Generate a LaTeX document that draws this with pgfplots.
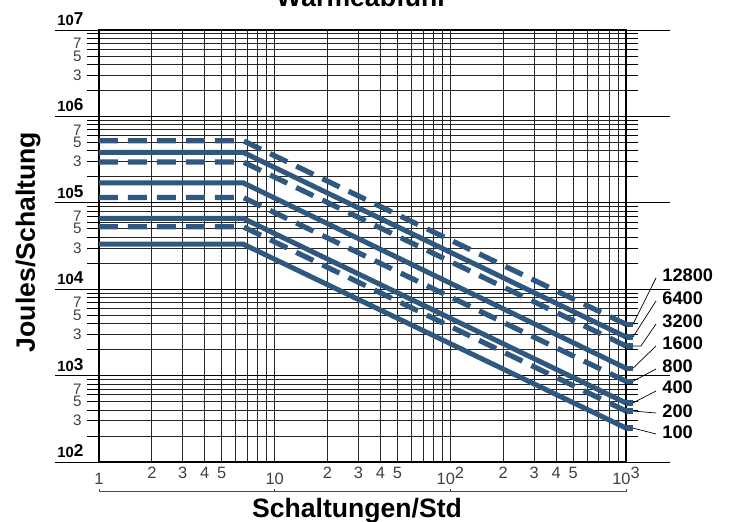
\documentclass[border=0pt]{standalone}
\usepackage{fontspec}
\setmainfont{Liberation Sans}
\usepackage{pgfplots}
\pgfplotsset{compat=1.18}
\definecolor{curve}{RGB}{47,88,128}
\newcommand{\dec}[1]{\fontsize{7.4}{8}\selectfont\bfseries 10\raisebox{0.5pt}{\fontsize{8.6}{9}\selectfont #1}}
\begin{document}
\begin{tikzpicture}
\begin{axis}[
 at={(0,0)}, anchor=south west,
 scale only axis, width=263.5pt, height=216pt,
 xmode=log, ymode=log,
 xmin=1, xmax=1000, ymin=100, ymax=1e7,
 clip=false,
 axis line style={line width=0.8pt},
 grid=both,
 major grid style={black!85, line width=0.45pt},
 minor grid style={black!85, line width=0.45pt},
 xtick={1,2,3,4,5,10,20,30,40,50,100,200,300,400,500,1000},
 xticklabels={\raisebox{-2.75pt}{1},2,3,4,5,\raisebox{-2.75pt}{10},2,3,4,5,\raisebox{-2.75pt}{10}2,2,3,4,5,\raisebox{-2.75pt}{10}3},
 minor xtick={6,7,8,9,60,70,80,90,600,700,800,900},
 x tick style={draw=none},
 xticklabel style={font=\fontsize{8.2}{9}\selectfont, text=black!75, anchor=north, text height=5.9pt, text depth=0pt, inner sep=2.35pt, yshift=6pt},
 ytick={300,500,700,3000,5000,7000,30000,50000,70000,3e5,5e5,7e5,3e6,5e6,7e6},
 yticklabels={3,5,7,3,5,7,3,5,7,3,5,7,3,5,7},
 minor ytick={200,400,600,800,900,2000,4000,6000,8000,9000,20000,40000,60000,80000,90000,2e5,4e5,6e5,8e5,9e5,2e6,4e6,6e6,8e6,9e6},
 y tick style={black, line width=0.45pt},
 tick align=outside,
 major tick length=6pt, minor tick length=6pt,
 yticklabel style={font=\fontsize{7.6}{8}\selectfont, text=black!75, anchor=east, inner sep=0pt, xshift=-2.5pt},
 extra y ticks={100,1000,10000,100000,1000000,10000000},
 extra y tick labels={\dec{2},\dec{3},\dec{4},\dec{5},\dec{6},\dec{7}},
 extra y tick style={major tick length=22pt, tick style={black, line width=0.6pt}, grid=major,
   major grid style={black, line width=0.6pt},
   yticklabel style={anchor=south west, inner sep=0pt, xshift=3.5pt, yshift=2pt, text=black}},
]
% 12800 dashed
\addplot[curve, line width=2.6pt, dash pattern=on 9.5pt off 5pt] coordinates {(1,5.22e5) (6.63,5.22e5) (1000,3926)};
% 6400 solid
\addplot[curve, line width=2.5pt] coordinates {(1,3.83e5) (6.63,3.83e5) (1000,2800)};
% 3200 dashed
\addplot[curve, line width=2.6pt, dash pattern=on 9.5pt off 5pt] coordinates {(1,2.96e5) (6.63,2.96e5) (1000,2203)};
% 1600 solid
\addplot[curve, line width=2.5pt] coordinates {(1,1.70e5) (6.63,1.70e5) (1000,1216)};
% 800 dashed
\addplot[curve, line width=2.6pt, dash pattern=on 9.5pt off 5pt] coordinates {(1,1.15e5) (6.63,1.15e5) (1000,859)};
% 400 solid
\addplot[curve, line width=2.5pt] coordinates {(1,6.59e4) (6.63,6.59e4) (1000,482)};
% 200 dashed
\addplot[curve, line width=2.6pt, dash pattern=on 9.5pt off 5pt] coordinates {(1,5.27e4) (6.63,5.27e4) (1000,389)};
% 100 solid
\addplot[curve, line width=2.5pt] coordinates {(1,3.32e4) (6.63,3.32e4) (1000,247)};
% end stubs
\addplot[curve, line width=2.6pt] coordinates {(1000,3926) (1096,3926)};
\addplot[curve, line width=2.6pt] coordinates {(1000,2800) (1096,2800)};
\addplot[curve, line width=2.6pt] coordinates {(1000,2203) (1096,2203)};
\addplot[curve, line width=2.6pt] coordinates {(1000,1216) (1096,1216)};
\addplot[curve, line width=2.6pt] coordinates {(1000,859) (1096,859)};
\addplot[curve, line width=2.6pt] coordinates {(1000,482) (1096,482)};
\addplot[curve, line width=2.6pt] coordinates {(1000,389) (1096,389)};
\addplot[curve, line width=2.6pt] coordinates {(1000,247) (1096,247)};
\coordinate (e1) at (axis cs:1096,3926);
\coordinate (e2) at (axis cs:1096,2800);
\coordinate (e3) at (axis cs:1096,2203);
\coordinate (e4) at (axis cs:1096,1216);
\coordinate (e5) at (axis cs:1096,859);
\coordinate (e6) at (axis cs:1096,482);
\coordinate (e7) at (axis cs:1096,389);
\coordinate (e8) at (axis cs:1096,247);
\end{axis}
\begin{scope}[line width=0.35pt]
\draw (e1) -- (278.5pt,92pt);
\draw (e2) -- (278.5pt,80.5pt);
\draw (e3) -- ++(4pt,0) -- (278.5pt,69pt);
\draw (e4) -- (278.5pt,58pt);
\draw (e5) -- (278.5pt,46.5pt);
\draw (e6) -- (278.5pt,35.5pt);
\draw (e7) -- (278.5pt,24.5pt);
\draw (e8) -- (278.5pt,14pt);
\end{scope}
\begin{scope}[every node/.style={anchor=west, inner sep=0pt, font=\fontsize{9.1}{10}\selectfont\bfseries}]
\node at (281.5pt,93.5pt) {12800};
\node at (281.5pt,82pt) {6400};
\node at (281.5pt,70.5pt) {3200};
\node at (281.5pt,59.35pt) {1600};
\node at (281.5pt,48pt) {800};
\node at (281.5pt,37.15pt) {400};
\node at (281.5pt,25.5pt) {200};
\node at (281.5pt,14.65pt) {100};
\end{scope}
\draw[black!70, line width=0.4pt] (0,-13.6pt) -- (0,-14.85pt) -- (263.5pt,-14.85pt) -- (263.5pt,-13.6pt);
\draw[black!70, line width=0.4pt] (87.83pt,-14.85pt) -- (87.83pt,-13.6pt);
\draw[black!70, line width=0.4pt] (175.67pt,-14.85pt) -- (175.67pt,-13.6pt);
\node[anchor=base, inner sep=0pt, font=\fontsize{13.3}{15}\selectfont\bfseries] at (131.5pt,227.6pt) {Wärmeabfuhr};
\node[anchor=base, inner sep=0pt, font=\fontsize{13.3}{15}\selectfont\bfseries] at (129pt,-28pt) {Schaltungen/Std};
\node[anchor=base, inner sep=0pt, rotate=90, font=\fontsize{13.3}{15}\selectfont\bfseries] at (-32pt,110pt) {Joules/Schaltung};
\pgfresetboundingbox
\useasboundingbox (-49.5pt,-30pt) rectangle (315pt,231pt);
\end{tikzpicture}
\end{document}
